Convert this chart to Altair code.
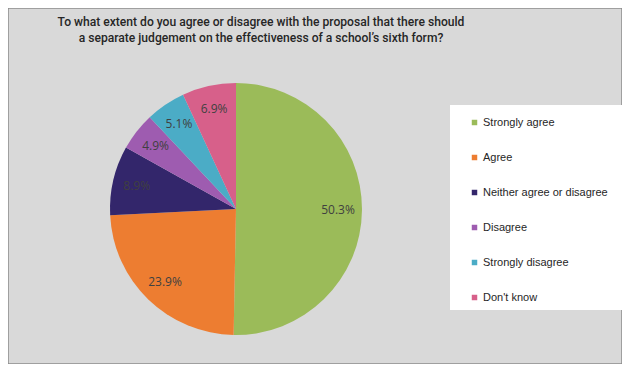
import altair as alt
import pandas as pd

categories = ["Strongly agree", "Agree", "Neither agree or disagree", "Disagree", "Strongly disagree", "Don't know"]
values = [50.3, 23.9, 8.9, 4.9, 5.1, 6.9]
colors = ["#9bbb59", "#ed7d31", "#33266b", "#9e5cb0", "#4bacc6", "#d7608a"]
title_lines = [
    "To what extent do you agree or disagree with the proposal that there should",
    "a separate judgement on the effectiveness of a school\u2019s sixth form?",
]

df = pd.DataFrame({
    "category": categories,
    "value": values,
    "order": list(range(len(categories))),
    "label": [f"{v:.1f}%" for v in values],
})

W, H = 614, 356
CX, CY, R = 228, 201, 126

color = alt.Color(
    "category:N",
    scale=alt.Scale(domain=categories, range=colors),
    sort=categories,
    legend=alt.Legend(
        title=None, orient="none", legendX=461, legendY=109,
        symbolType="square", symbolSize=30, symbolStrokeWidth=0,
        labelFont="Liberation Sans", labelFontSize=11, labelColor="#262626",
        labelOffset=3, rowPadding=23, padding=0, labelLimit=300,
    ),
)

base = alt.Chart(df)

arcs = base.mark_arc(outerRadius=R, stroke=None).encode(
    theta=alt.Theta("value:Q", stack=True),
    order=alt.Order("order:Q"),
    color=color,
    x=alt.value(CX),
    y=alt.value(CY),
)

labels = base.mark_text(radius=102, font="Open Sans", fontSize=12, color="#404040").encode(
    theta=alt.Theta("value:Q", stack=True),
    order=alt.Order("order:Q"),
    text="label:N",
    x=alt.value(CX),
    y=alt.value(CY),
)

legend_box = alt.Chart(pd.DataFrame({"a": [0]})).mark_rect(color="white").encode(
    x=alt.value(442), x2=alt.value(617), y=alt.value(97), y2=alt.value(302)
)

title_df = pd.DataFrame({"line": title_lines, "i": [0, 1]})
title = alt.Chart(title_df).mark_text(
    font="Roboto", fontSize=12.1, fontWeight=500, color="#262626", align="center"
).encode(
    text="line:N",
    x=alt.value(253),
    y=alt.Y("i:Q", axis=None, scale=alt.Scale(domain=[0, 1], range=[14, 30])),
)

chart = alt.layer(legend_box, arcs, labels, title).properties(
    width=W, height=H, padding=0, autosize="none"
).configure(background="#d9d9d9").configure_view(stroke="#8c8c8c", strokeWidth=1.5)

chart.save("out.html", embed_options={"renderer": "svg", "actions": False})
